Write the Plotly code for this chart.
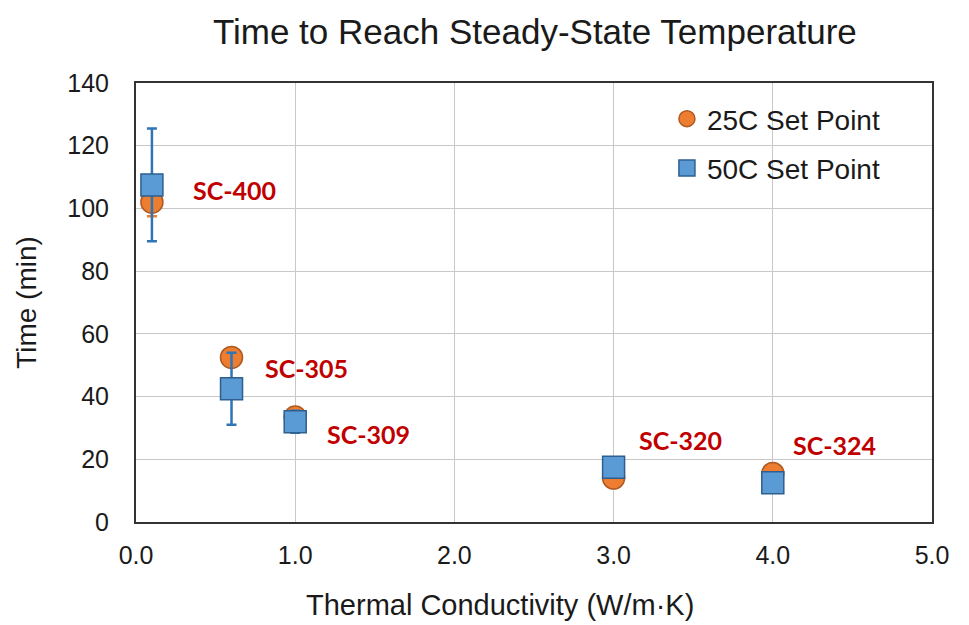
import plotly.graph_objects as go

conductivity = [0.1, 0.6, 1.0, 3.0, 4.0]
names = ["SC-400", "SC-305", "SC-309", "SC-320", "SC-324"]
t25 = [102, 52.5, 33.5, 14, 15.5]
t25_err = [4.5, 2, 2, 1, 1]
t50 = [107.5, 42.5, 32, 17.5, 12.5]
t50_err = [18, 11.5, 3.5, 1, 1]
label_x = [0.62, 1.07, 1.46, 3.42, 4.39]
label_y = [106, 49, 28, 26, 24.5]

fig = go.Figure()
fig.add_trace(go.Scatter(
    x=conductivity, y=t25, mode="markers", name="25C Set Point",
    legendgroup="a",
    marker=dict(symbol="circle", size=22, color="#ED7D31",
                line=dict(color="#AE5A21", width=1.5)),
    error_y=dict(type="data", array=t25_err, color="#ED7D31", thickness=2.5, width=5),
))
fig.add_trace(go.Scatter(
    x=conductivity, y=t50, mode="markers", name="50C Set Point",
    legendgroup="b",
    marker=dict(symbol="square", size=22, color="#5B9BD5",
                line=dict(color="#2E5F8E", width=1.5)),
    error_y=dict(type="data", array=t50_err, color="#2E75B6", thickness=2.5, width=5),
))

for n, lx, ly in zip(names, label_x, label_y):
    fig.add_annotation(x=lx, y=ly, text=n, showarrow=False, xanchor="center", yanchor="middle",
                       font=dict(family="Lato", size=25, color="#C00000", weight="bold"))

fig.add_annotation(x=0.457, y=-0.188, xref="paper", yref="paper", text="Thermal Conductivity (W/m·K)",
                   showarrow=False, xanchor="center", yanchor="middle",
                   font=dict(family="Liberation Sans", size=29, color="#1a1a1a"))

fig.update_layout(
    width=969, height=625,
    margin=dict(l=136, r=37, t=83, b=103),
    paper_bgcolor="white", plot_bgcolor="white",
    font=dict(family="Liberation Sans", color="#1a1a1a", size=25),
    title=dict(text="Time to Reach Steady-State Temperature", x=0.552, xanchor="center",
               y=0.949, yanchor="middle", font=dict(size=35, color="#1a1a1a")),
    showlegend=True,
    legend=dict(x=0.667, y=0.975, xanchor="left", yanchor="top", bgcolor="rgba(255,255,255,0)",
                font=dict(size=28), traceorder="grouped", tracegroupgap=10, itemwidth=30),
    xaxis=dict(range=[0, 5], dtick=1, tickformat=".1f", showgrid=True, gridcolor="#C8C8C8",
               gridwidth=1, showline=True, linecolor="#333333", linewidth=2, mirror=True,
               ticks="", zeroline=False, tickfont=dict(size=25), ticklabelstandoff=10),
    yaxis=dict(range=[0, 140], dtick=20, showgrid=True, gridcolor="#C8C8C8", gridwidth=1,
               showline=True, linecolor="#333333", linewidth=2, mirror=True, ticks="",
               zeroline=False, tickfont=dict(size=25), ticklabelstandoff=20,
               title=dict(text="Time (min)", font=dict(size=28), standoff=22)),
)

fig.write_html("out.html")
